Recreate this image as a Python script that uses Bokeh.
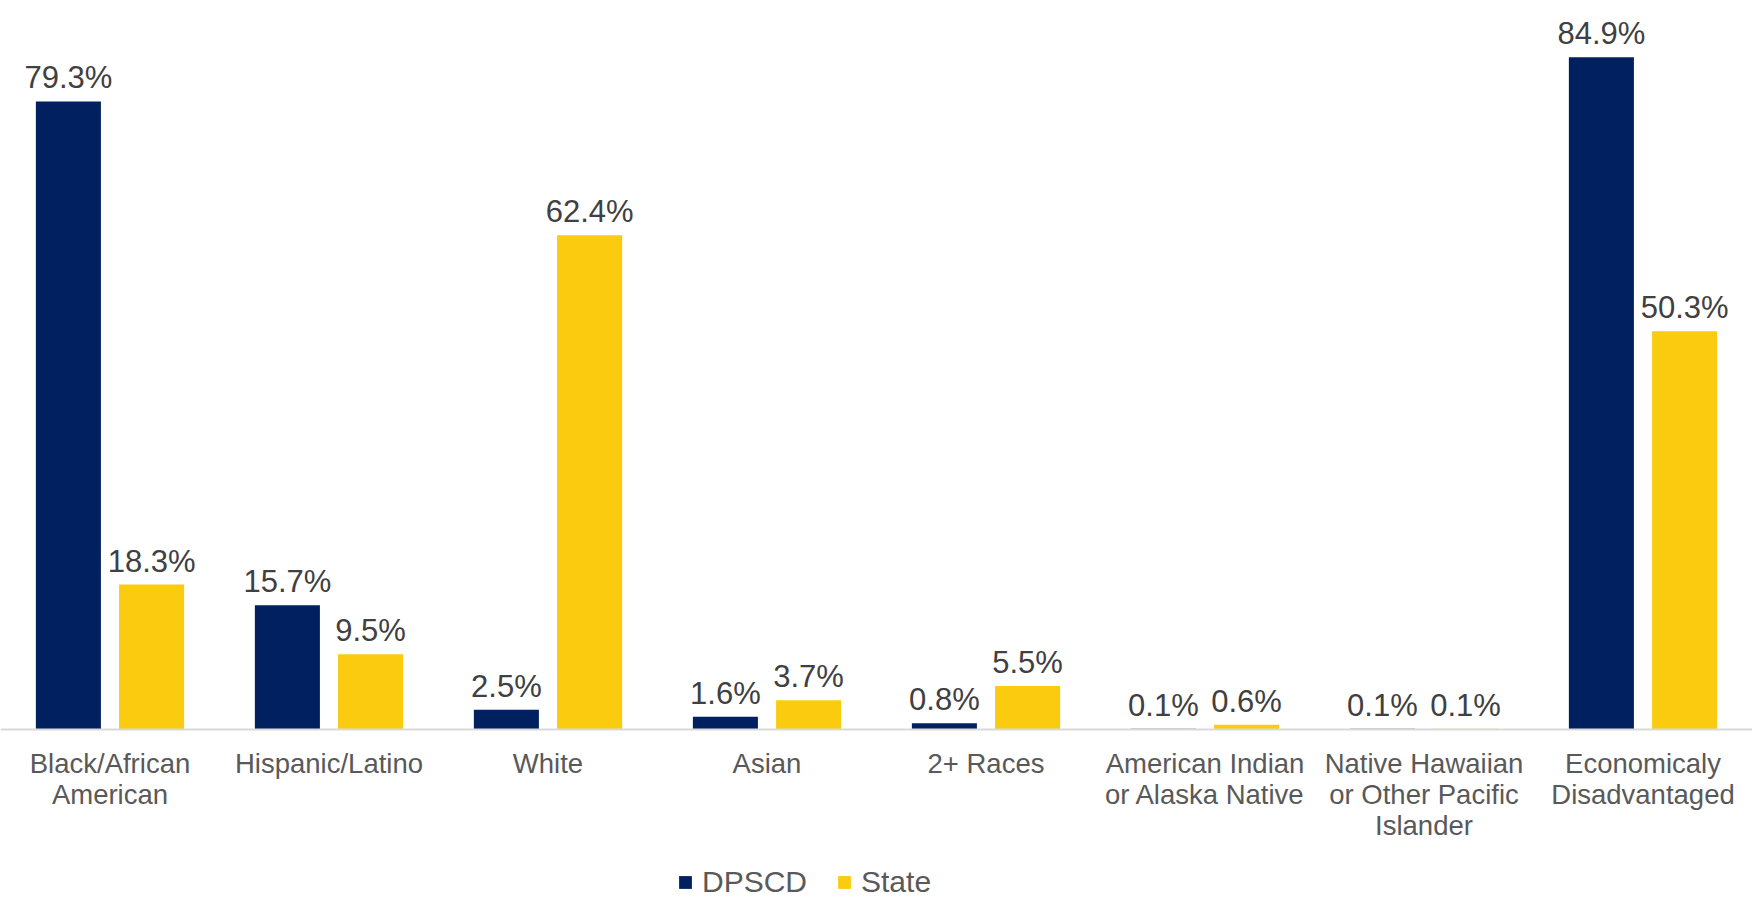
from bokeh.plotting import figure
from bokeh.models import ColumnDataSource, FactorRange, Range1d, LabelSet, Legend, LegendItem
from bokeh.core.properties import value
from bokeh.transform import dodge
from bokeh.embed import file_html
from bokeh.resources import INLINE

categories = [
    "Black/African\nAmerican",
    "Hispanic/Latino",
    "White",
    "Asian",
    "2+ Races",
    "American Indian\nor Alaska Native",
    "Native Hawaiian\nor Other Pacific\nIslander",
    "Economicaly\nDisadvantaged",
]
dpscd = [79.3, 15.7, 2.5, 1.6, 0.8, 0.1, 0.1, 84.9]
state = [18.3, 9.5, 62.4, 3.7, 5.5, 0.6, 0.1, 50.3]
series_names = ["DPSCD", "State"]
colors = ["#002060", "#FACB0F"]

FONT = "Liberation Sans"

src = ColumnDataSource(dict(
    cat=categories,
    dpscd=dpscd,
    state=state,
    dpscd_lbl=[f"{v:.1f}%" for v in dpscd],
    state_lbl=[f"{v:.1f}%" for v in state],
))

# plot frame covers the whole figure; the value axis runs 0..92 above the category axis
p = figure(
    x_range=FactorRange(*categories),
    y_range=Range1d(-21.46, 92.05),
    width=1752,
    height=899,
    min_border_left=0, min_border_right=0, min_border_top=0, min_border_bottom=0,
    output_backend="svg",
    toolbar_location=None,
)

OFF = 0.19
W = 0.297
r1 = p.vbar(x=dodge("cat", -OFF, range=p.x_range), top="dpscd", bottom=0, width=W, source=src,
            fill_color=colors[0], line_color=None)
r2 = p.vbar(x=dodge("cat", OFF, range=p.x_range), top="state", bottom=0, width=W, source=src,
            fill_color=colors[1], line_color=None)

for col, lbl, off in [("dpscd", "dpscd_lbl", -OFF), ("state", "state_lbl", OFF)]:
    p.add_layout(LabelSet(
        x=dodge("cat", off, range=p.x_range), y=col, text=lbl, source=src,
        text_align="center", text_baseline="alphabetic", y_offset=13,
        text_font=value(FONT), text_font_size=value("31px"), text_color=value("#404040"),
    ))

p.yaxis.visible = False
p.xgrid.grid_line_color = None
p.ygrid.grid_line_color = None
p.outline_line_color = None

ax = p.xaxis[0]
ax.fixed_location = 0
ax.axis_line_color = "#D9D9D9"
ax.axis_line_width = 2
ax.major_tick_line_color = None
ax.minor_tick_line_color = None
ax.major_tick_out = 0
ax.major_tick_in = 0
ax.major_label_standoff = 18
ax.major_label_text_font = FONT
ax.major_label_text_font_size = "27.5px"
ax.major_label_text_color = "#595959"
ax.major_label_text_line_height = 1.0

legend = Legend(
    items=[LegendItem(label=series_names[0], renderers=[r1]),
           LegendItem(label=series_names[1], renderers=[r2])],
    orientation="horizontal",
    location=(677, 0),
    label_text_font=FONT,
    label_text_font_size="30px",
    label_text_color="#595959",
    glyph_width=16, glyph_height=16,
    label_standoff=9, spacing=29,
    padding=0, margin=0,
    border_line_color=None,
    background_fill_alpha=0,
)
p.add_layout(legend, "center")

open("out.html", "w").write(file_html(p, INLINE))
